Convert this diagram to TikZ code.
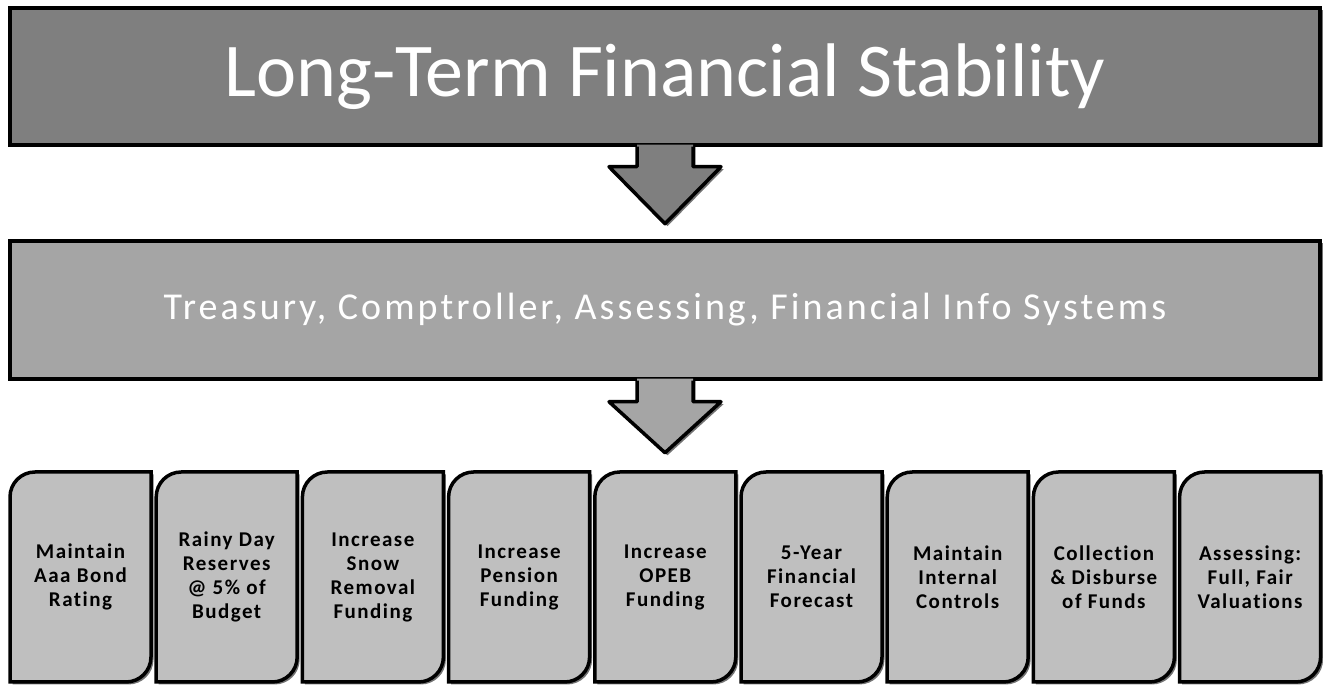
\documentclass[tikz,border=0pt]{standalone}
\usepackage{fontspec}
\setmainfont[Ligatures=NoCommon]{Carlito}
\newfontfamily\midfont[LetterSpace=8,Ligatures=NoCommon]{Carlito}
\newfontfamily\cellfont[LetterSpace=7,Ligatures=NoCommon]{Carlito}
\usetikzlibrary{backgrounds}

\definecolor{topgray}{HTML}{7F7F7F}
\definecolor{midgray}{HTML}{A5A5A5}
\definecolor{cellgray}{HTML}{BFBFBF}

\tikzset{
    boxshadow/.style={preaction={fill=black!55,transform canvas={xshift=2.5pt,yshift=-2.5pt}}},
    bigbox/.style={draw=black,line width=3.5pt,minimum width=1310pt,text=white,boxshadow},
    arrowline/.style={draw=black,line width=3.5pt,line join=round},
    celltext/.style={minimum width=141pt,minimum height=210pt,outer sep=0pt,align=center,
        font=\cellfont\bfseries\fontsize{21}{24}\selectfont},
    cellbox/.style={draw=black,line width=3.5pt,fill=cellgray,boxshadow}
}

\begin{document}
\begin{tikzpicture}[x=1pt,y=1pt]
        \useasboundingbox (0,0) rectangle (1323,685);
        % goal and department boxes
        \node[bigbox,fill=topgray,minimum height=137pt,
            font=\fontsize{76}{90}\selectfont] (goal) at (665,608.5) {Long-Term Financial Stability};
        \node[bigbox,fill=midgray,minimum height=138pt,
            font=\midfont\fontsize{38}{44}\selectfont] (dept) at (665,375) {Treasury, Comptroller, Assessing, Financial Info Systems};
        % block arrows
        \begin{scope}[shift={(goal.south)}]
            \fill[topgray,boxshadow] (-28,2) -- (-28,-20) -- (-56,-20) -- (0,-77) -- (56,-20) -- (28,-20) -- (28,2) -- cycle;
            \draw[arrowline] (-28,0) -- (-28,-20) -- (-56,-20) -- (0,-77) -- (56,-20) -- (28,-20) -- (28,0);
        \end{scope}
        \begin{scope}[shift={(dept.south)}]
            \fill[midgray,boxshadow] (-28,2) -- (-28,-21) -- (-56,-21) -- (0,-72) -- (56,-21) -- (28,-21) -- (28,2) -- cycle;
            \draw[arrowline] (-28,0) -- (-28,-21) -- (-56,-21) -- (0,-72) -- (56,-21) -- (28,-21) -- (28,0);
        \end{scope}
        % objectives
        \foreach \txt [count=\i] in {{Maintain\\Aaa Bond\\Rating},{Rainy Day\\Reserves\\@ 5\% of\\Budget},
            {Increase\\Snow\\Removal\\Funding},{Increase\\Pension\\Funding},{Increase\\OPEB\\Funding},
            {5-Year\\Financial\\Forecast},{Maintain\\Internal\\Controls},{Collection\\\& Disburse\\of Funds},
            {Assessing:\\Full, Fair\\Valuations}}
        {
            \node[celltext] (c\i) at ({80.5+(\i-1)*146.2},108) {\txt};
            \begin{scope}[on background layer]
                \draw[cellbox] (c\i.south west) -- ([yshift=-25pt]c\i.north west)
                    arc[start angle=180,end angle=90,radius=25pt] -- (c\i.north east)
                    -- ([yshift=25pt]c\i.south east)
                    arc[start angle=0,end angle=-90,radius=25pt] -- cycle;
            \end{scope}
        }
\end{tikzpicture}
\end{document}
